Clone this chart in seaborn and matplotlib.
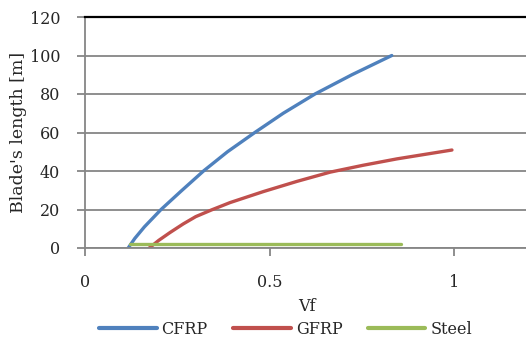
import matplotlib
matplotlib.use("Agg")
import matplotlib.pyplot as plt
import seaborn as sns
import pandas as pd
from matplotlib.lines import Line2D

sns.set_style("white")
plt.rcParams['font.family'] = ['DejaVu Serif']

cfrp_vf = [0.117, 0.135, 0.161, 0.206, 0.26, 0.321, 0.386, 0.46, 0.537, 0.623, 0.723, 0.831]
cfrp_len = [0, 5, 11, 20, 29.5, 40, 50, 60, 70, 80, 90, 100]
gfrp_vf = [0.174, 0.20, 0.23, 0.266, 0.30, 0.343, 0.393, 0.483, 0.574, 0.664, 0.754, 0.845, 0.994]
gfrp_len = [0, 4, 8, 12.5, 16.3, 19.8, 23.6, 29.3, 34.6, 39.4, 43.0, 46.3, 50.9]
steel_vf = [0.122, 0.857]
steel_len = [2, 2]

series = ["CFRP", "GFRP", "Steel"]
colors = ["#4F81BD", "#C0504D", "#9BBB59"]

df = pd.concat([
    pd.DataFrame({"Vf": cfrp_vf, "L": cfrp_len, "s": "CFRP"}),
    pd.DataFrame({"Vf": gfrp_vf, "L": gfrp_len, "s": "GFRP"}),
    pd.DataFrame({"Vf": steel_vf, "L": steel_len, "s": "Steel"}),
])

fig = plt.figure(figsize=(5.26, 3.40), dpi=100)
ax = fig.add_axes([85/526, 92/340, 443/526, 231/340])
sns.lineplot(data=df, x="Vf", y="L", hue="s", hue_order=series,
             palette=colors, linewidth=2.4, ax=ax, sort=False, legend=False)
for ln in ax.get_lines():
    ln.set_solid_capstyle("round")
    ln.set_solid_joinstyle("round")

ax.set_xlim(0, 1.2)
ax.set_ylim(0, 120)
ax.set_xticks([0, 0.5, 1])
ax.set_xticklabels(["0", "0.5", "1"])
ax.set_yticks([0, 20, 40, 60, 80, 100, 120])
ax.yaxis.grid(True, color="#868686", linewidth=1.3)
ax.set_axisbelow(True)
ax.spines["right"].set_visible(False)
ax.spines["top"].set_color("black")
ax.spines["top"].set_linewidth(1.6)
for s in ["left", "bottom"]:
    ax.spines[s].set_color("#868686")
    ax.spines[s].set_linewidth(1.3)
ax.tick_params(axis="y", direction="out", length=6, width=1.3, color="#868686",
               pad=12, labelsize=11.5, left=True)
ax.tick_params(axis="x", direction="out", length=6, width=1.3, color="#868686",
               pad=13, labelsize=11.5, bottom=True)
ax.set_xlabel("Vf", fontsize=11.5, labelpad=5)
ax.set_ylabel("Blade's length [m]", fontsize=12.5, labelpad=2)

handles = [Line2D([], [], color=c, linewidth=3) for c in colors]
fig.legend(handles, series, loc="lower center", bbox_to_anchor=(0.543, -0.035),
           ncol=3, frameon=False, fontsize=11.5, handlelength=3.6,
           handletextpad=0.3, columnspacing=1.6)

fig.savefig("out.png", dpi=100)
